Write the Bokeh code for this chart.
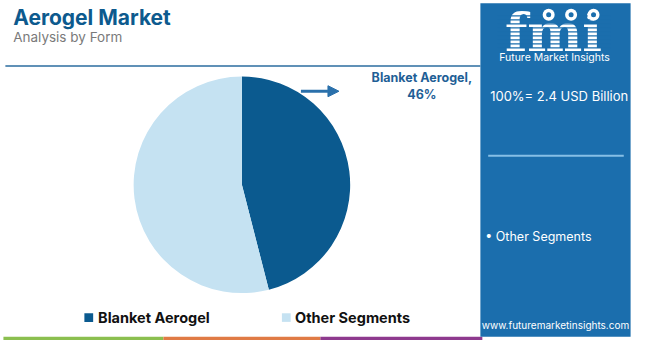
import numpy as np
from bokeh.plotting import figure
from bokeh.models import Range1d, ColumnDataSource, Arrow, NormalHead
from bokeh.core.properties import value
from bokeh.embed import file_html
from bokeh.resources import INLINE

# ---- data ----
categories = ["Blanket Aerogel", "Other Segments"]
shares = [46, 54]
slice_colors = ["#0b5a8f", "#c5e2f2"]
title_text = "Aerogel Market"
subtitle_text = "Analysis by Form"
callout_lines = ["Blanket Aerogel,", "46%"]
total_label = "100%= 2.4 USD Billion"
panel_items = ["• Other Segments"]
brand_name = "Future Market Insights"
website = "www.futuremarketinsights.com"

FONT = "Inter"
W, H = 650, 356


def Y(y):
    return H - y


p = figure(width=634, height=340, x_range=Range1d(0, W), y_range=Range1d(0, H),
           output_backend="svg", toolbar_location=None, min_border=0)
p.axis.visible = False
p.grid.visible = False
p.outline_line_color = None
p.background_fill_color = "white"
p.border_fill_color = "white"

# ---- title ----
p.text(x=[13], y=[Y(18)], text=[title_text], text_font=value(FONT), text_font_size="21px",
       text_font_style="bold", text_color="#0d5a8e", text_baseline="middle", text_align="left")
p.text(x=[13], y=[Y(38)], text=[subtitle_text], text_font=value(FONT), text_font_size="13.5px",
       text_color="#7a7a7a", text_baseline="middle", text_align="left")
p.segment(x0=[5], y0=[Y(68.5)], x1=[492], y1=[Y(68.5)], line_color="#2b6d9f", line_width=1.5)

# ---- pie ----
fr = np.array(shares, dtype=float) / sum(shares)
cum = np.concatenate([[0], np.cumsum(fr)])
start = np.pi / 2 - 2 * np.pi * cum[:-1]
end = np.pi / 2 - 2 * np.pi * cum[1:]
src = ColumnDataSource(dict(cat=categories, start=start, end=end, color=slice_colors))
p.wedge(x=247.5, y=Y(193), radius=111, start_angle="start", end_angle="end",
        direction="clock", fill_color="color", line_color=None, source=src)

# ---- callout ----
p.add_layout(Arrow(x_start=308, y_start=Y(95), x_end=347, y_end=Y(95), line_color="#2a70ab",
                   line_width=3, end=NormalHead(size=11, fill_color="#2a70ab", line_color="#2a70ab")))
p.text(x=[432, 432], y=[Y(81), Y(98)], text=callout_lines, text_font=value(FONT),
       text_font_size="12.5px", text_font_style="bold", text_color="#1f5f96",
       text_baseline="middle", text_align="center")

# ---- legend ----
lx = [90.5, 293]
p.rect(x=lx, y=[Y(332)] * 2, width=9, height=9, fill_color=slice_colors, line_color=None)
p.text(x=[100, 302], y=[Y(332)] * 2, text=categories, text_font=value(FONT),
       text_font_size="14.5px", text_font_style="bold", text_color="#111111",
       text_baseline="middle", text_align="left")

# ---- bottom stripe ----
p.quad(left=[3, 167, 328], right=[167, 328, 494], bottom=[Y(356)] * 3, top=[Y(352)] * 3,
       fill_color=["#8bbf4f", "#e07b45", "#8e3a8e"], line_color=None)

# ---- right panel ----
PANEL = "#1b6ead"
p.quad(left=[492], right=[646], top=[Y(3)], bottom=[Y(352)], fill_color=PANEL, line_color=None)
p.text(x=[567], y=[Y(33)], text=["fmi"], text_font=value("DejaVu Serif"), text_font_size="52px",
       text_font_style="bold", text_color="white", text_baseline="middle", text_align="center")
sy = np.arange(16, 52, 4.2)
p.segment(x0=[510] * len(sy), x1=[625] * len(sy), y0=[Y(v) for v in sy], y1=[Y(v) for v in sy],
          line_color=PANEL, line_width=1.2)
p.scatter(x=[562, 585, 608], y=[Y(15)] * 3, size=12, fill_color="white", line_color=None)
p.scatter(x=[562, 585, 608], y=[Y(15)] * 3, size=5, fill_color=PANEL, line_color=None)
p.text(x=[568], y=[Y(60)], text=[brand_name], text_font=value(FONT), text_font_size="10.5px",
       text_color="white", text_baseline="middle", text_align="center")
p.text(x=[502], y=[Y(100)], text=[total_label], text_font=value(FONT), text_font_size="13px",
       text_color="white", text_baseline="middle", text_align="left")
p.segment(x0=[500], y0=[Y(162.5)], x1=[639], y1=[Y(162.5)], line_color="#86bfe6", line_width=2)
p.text(x=[497], y=[Y(247)], text=panel_items, text_font=value(FONT), text_font_size="12.5px",
       text_color="white", text_baseline="middle", text_align="left")
p.text(x=[569], y=[Y(340)], text=[website], text_font=value(FONT), text_font_size="10px",
       text_color="white", text_baseline="middle", text_align="center")

open("out.html", "w").write(file_html(p, INLINE))
